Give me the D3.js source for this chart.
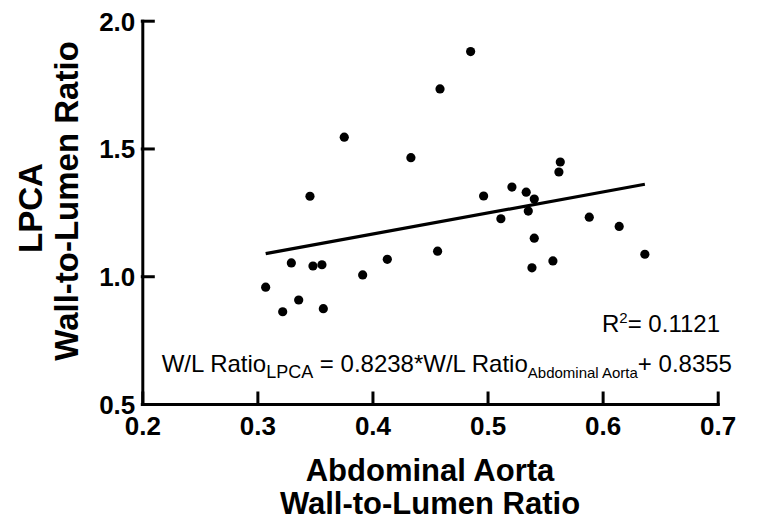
<!DOCTYPE html>
<html>
<head>
<meta charset="utf-8">
<script src="https://cdn.jsdelivr.net/npm/d3@7"></script>
<style>
  body { margin: 0; background: #fff; }
  svg { display: block; font-family: "Liberation Sans", Arial, sans-serif; }
</style>
</head>
<body>
<div id="chart"></div>
<script>
/* CONSTANTS AND GLOBALS */
const width = 759,
  height = 525,
  margin = { top: 20.7, bottom: 121, left: 142.3, right: 41.3 },
  radius = 4.6;

// abdominal aorta wall-to-lumen ratio (x) and LPCA wall-to-lumen ratio (y)
const aortaWL = [0.4853, 0.4587, 0.3755, 0.4334, 0.3457, 0.5632, 0.5620, 0.4966, 0.5212, 0.5336,
  0.5406, 0.5354, 0.5116, 0.5884, 0.6144, 0.4566, 0.5406, 0.5568, 0.5386, 0.6367,
  0.3072, 0.3220, 0.3295, 0.3359, 0.3483, 0.3561, 0.3573, 0.3915, 0.4129];
const lpcaWL = [1.879, 1.733, 1.544, 1.464, 1.313, 1.447, 1.408, 1.314, 1.349, 1.329,
  1.302, 1.255, 1.225, 1.231, 1.195, 1.098, 1.149, 1.060, 1.033, 1.086,
  0.957, 0.861, 1.052, 0.907, 1.040, 1.045, 0.873, 1.005, 1.066];

// linear fit reported on the figure
const slope = 0.8238,
  intercept = 0.8355,
  rSquared = "0.1121";

const xTicks = [0.2, 0.3, 0.4, 0.5, 0.6, 0.7];
const yTicks = [0.5, 1.0, 1.5, 2.0];

const points = aortaWL.map((x, i) => ({ x: x, y: lpcaWL[i] }));

//SCALES
const xScale = d3.scaleLinear()
  .domain([0.2, 0.7])
  .range([margin.left, width - margin.right]);

const yScale = d3.scaleLinear()
  .domain([0.5, 2.0])
  .range([height - margin.bottom, margin.top]);

//Creating SVG
const svg = d3.select("#chart")
  .append("svg")
  .attr("width", width)
  .attr("height", height);

//AXES (ticks point inwards, like the original)
const xAxis = d3.axisBottom(xScale)
  .tickValues(xTicks)
  .tickFormat(d3.format(".1f"))
  .tickSizeInner(-11)
  .tickSizeOuter(0);

const yAxis = d3.axisLeft(yScale)
  .tickValues(yTicks)
  .tickFormat(d3.format(".1f"))
  .tickSizeInner(-11)
  .tickSizeOuter(0);

const gx = svg.append("g")
  .attr("class", "xAxis")
  .attr("transform", `translate(0, ${height - margin.bottom})`)
  .call(xAxis);

gx.selectAll("text")
  .attr("y", 31)
  .attr("dy", null);

const gy = svg.append("g")
  .attr("class", "yAxis")
  .attr("transform", `translate(${margin.left}, 0)`)
  .call(yAxis);

gy.selectAll("text")
  .attr("x", -7)
  .attr("dy", "0.36em");

svg.selectAll(".xAxis, .yAxis")
  .attr("font-family", null)
  .attr("font-size", null);

svg.selectAll(".domain, .tick line")
  .attr("stroke", "#000")
  .attr("stroke-width", 3)
  .attr("stroke-linecap", "square");

svg.selectAll(".tick text")
  .attr("fill", "#000")
  .style("font-size", "26px")
  .style("font-weight", "bold");

//AXIS TITLES
const xMid = (xScale.range()[0] + xScale.range()[1]) / 2;
svg.append("text")
  .attr("x", xMid)
  .attr("y", 481)
  .attr("text-anchor", "middle")
  .style("font-size", "31px")
  .style("font-weight", "bold")
  .text("Abdominal Aorta");
svg.append("text")
  .attr("x", xMid)
  .attr("y", 514)
  .attr("text-anchor", "middle")
  .style("font-size", "31px")
  .style("font-weight", "bold")
  .text("Wall-to-Lumen Ratio");

svg.append("text")
  .attr("transform", "translate(42, 208) rotate(-90)")
  .attr("text-anchor", "middle")
  .style("font-size", "33px")
  .style("font-weight", "bold")
  .text("LPCA");
svg.append("text")
  .attr("transform", "translate(78, 201) rotate(-90)")
  .attr("text-anchor", "middle")
  .style("font-size", "33px")
  .style("font-weight", "bold")
  .text("Wall-to-Lumen Ratio");

//REGRESSION LINE over the range of the data
const xExtent = d3.extent(aortaWL);
svg.append("line")
  .attr("x1", xScale(xExtent[0]))
  .attr("y1", yScale(slope * xExtent[0] + intercept))
  .attr("x2", xScale(xExtent[1]))
  .attr("y2", yScale(slope * xExtent[1] + intercept))
  .attr("stroke", "#000")
  .attr("stroke-width", 3.2);

//POINTS
svg.selectAll("circle")
  .data(points)
  .join("circle")
  .attr("cx", d => xScale(d.x))
  .attr("cy", d => yScale(d.y))
  .attr("r", radius)
  .attr("fill", "#000");

//ANNOTATIONS
const r2 = svg.append("text")
  .attr("x", 720)
  .attr("y", 332)
  .attr("text-anchor", "end")
  .style("font-size", "24px");
r2.append("tspan").text("R");
r2.append("tspan").attr("dy", -9).style("font-size", "15px").text("2");
r2.append("tspan").attr("dy", 9).text("= " + rSquared);

const eq = svg.append("text")
  .attr("x", 161.7)
  .attr("y", 372)
  .style("font-size", "24px");
eq.append("tspan").text("W/L Ratio");
eq.append("tspan").attr("dy", 6).style("font-size", "18px").text("LPCA");
eq.append("tspan").attr("dy", -6).text(` = ${slope}*W/L Ratio`);
eq.append("tspan").attr("dy", 6).style("font-size", "15px").text("Abdominal Aorta");
eq.append("tspan").attr("dy", -6).text(`+ ${intercept}`);
</script>
</body>
</html>
